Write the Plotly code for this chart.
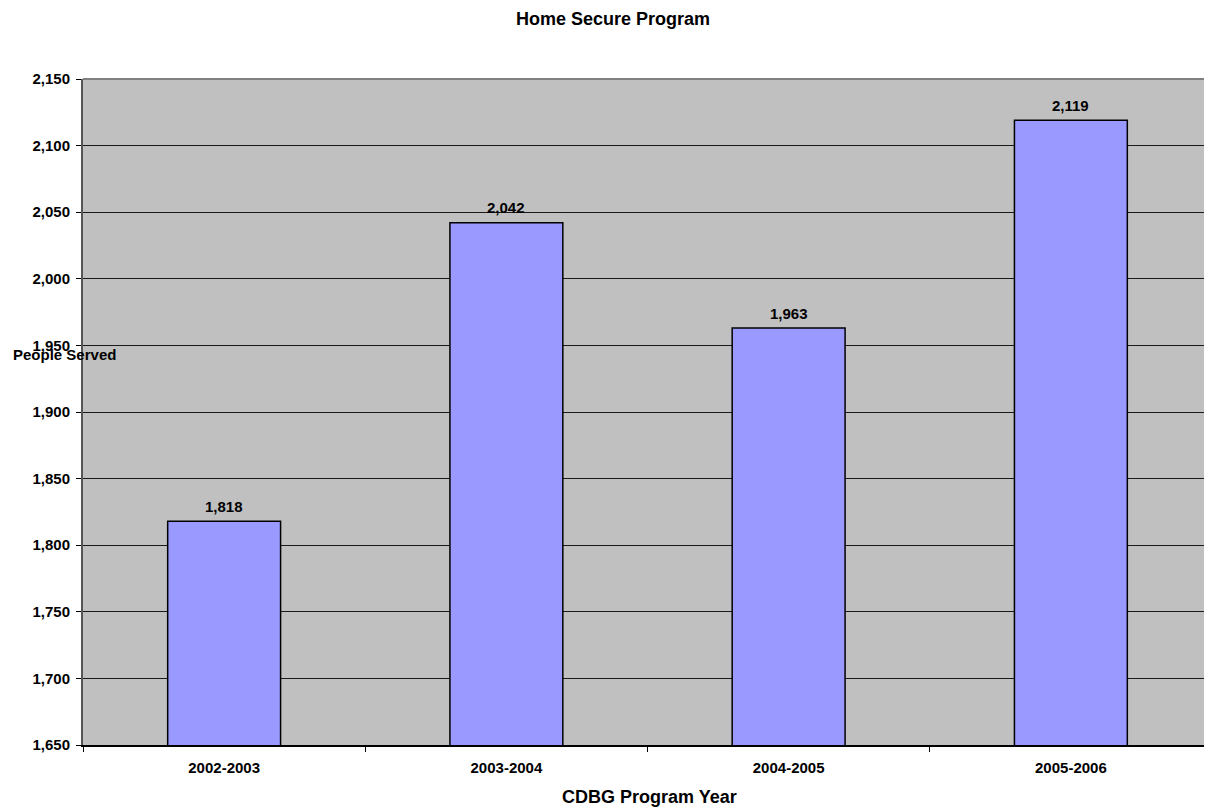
import plotly.graph_objects as go

categories = ["2002-2003", "2003-2004", "2004-2005", "2005-2006"]
people_served = [1818, 2042, 1963, 2119]
y_ticks = [1650, 1700, 1750, 1800, 1850, 1900, 1950, 2000, 2050, 2100, 2150]

FONT = "Liberation Sans, Arial, sans-serif"

# The page body has an 8px default margin, so the figure is sized to fill the
# remaining 1204x800 area of the 1212x808 window.
W, H = 1204, 800

fig = go.Figure()
fig.add_trace(go.Bar(
    x=categories,
    y=people_served,
    marker=dict(color="#9999FF", line=dict(color="#000000", width=1.5)),
    hoverinfo="x+y",
))

for c, v in zip(categories, people_served):
    fig.add_annotation(
        x=c, y=v, xref="x", yref="y", text=f"{v:,}", showarrow=False,
        yshift=15, yanchor="middle",
        font=dict(family=FONT, size=15, color="#000000", weight="bold"),
    )

fig.add_annotation(
    x=-0.0638, y=0.5856, xref="paper", yref="paper", text="People Served",
    showarrow=False, xanchor="left", yanchor="middle",
    font=dict(family=FONT, size=15, color="#000000", weight="bold"),
)
fig.add_annotation(
    x=0.502, y=-0.0785, xref="paper", yref="paper", text="CDBG Program Year",
    showarrow=False, xanchor="center", yanchor="middle",
    font=dict(family=FONT, size=18, color="#000000", weight="bold"),
)

# top border of plot area
fig.add_shape(type="line", xref="paper", yref="paper", x0=0, x1=1, y0=1, y1=1,
              line=dict(color="#808080", width=2), layer="above")

fig.update_layout(
    width=W, height=H,
    margin=dict(l=75, r=0, t=71, b=63),
    paper_bgcolor="#FFFFFF",
    plot_bgcolor="#C0C0C0",
    bargap=0.6,
    showlegend=False,
    title=dict(
        text="Home Secure Program", x=605 / W, xref="container", xanchor="center",
        y=1 - 11 / H, yref="container", yanchor="middle",
        font=dict(family=FONT, size=18, color="#000000", weight="bold"),
    ),
    xaxis=dict(
        type="category", range=[-0.5, 3.5],
        showgrid=False, zeroline=False,
        showline=True, linecolor="#000000", linewidth=2,
        ticks="outside", tickson="boundaries", ticklen=5, tickcolor="#000000", tickwidth=1,
        ticklabelstandoff=8,
        tickfont=dict(family=FONT, size=15, color="#000000", weight="bold"),
    ),
    yaxis=dict(
        range=[1650, 2150], tickvals=y_ticks, tickformat=",",
        showgrid=True, gridcolor="#1a1a1a", gridwidth=1, zeroline=False,
        showline=True, linecolor="#555555", linewidth=2,
        ticks="outside", ticklen=5, tickcolor="#000000", tickwidth=1,
        ticklabelstandoff=3,
        tickfont=dict(family=FONT, size=15, color="#000000", weight="bold"),
    ),
)

fig.write_html("out.html")
